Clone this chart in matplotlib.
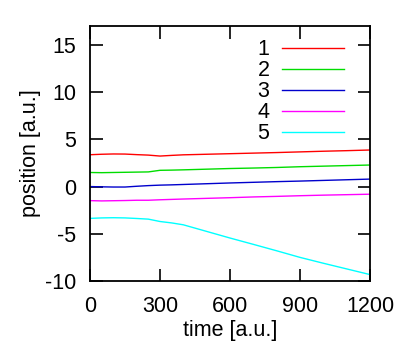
import matplotlib
matplotlib.use("Agg")
import matplotlib.pyplot as plt

plt.rcParams['font.family'] = ['Liberation Sans', 'DejaVu Sans']
plt.rcParams['axes.unicode_minus'] = False

time = [0, 50, 100, 150, 200, 250, 300, 350, 400, 500, 600, 700, 800, 900, 1000, 1100, 1200]
s1 = [3.37, 3.42, 3.45, 3.44, 3.38, 3.33, 3.23, 3.30, 3.36, 3.42, 3.48, 3.54, 3.60, 3.67, 3.74, 3.80, 3.87]
s2 = [1.49, 1.47, 1.49, 1.51, 1.53, 1.55, 1.72, 1.74, 1.77, 1.84, 1.91, 1.96, 2.02, 2.10, 2.16, 2.22, 2.28]
s3 = [0.00, -0.03, -0.05, -0.05, 0.03, 0.10, 0.15, 0.18, 0.22, 0.30, 0.38, 0.45, 0.52, 0.58, 0.65, 0.72, 0.79]
s4 = [-1.49, -1.52, -1.50, -1.48, -1.45, -1.45, -1.40, -1.36, -1.32, -1.25, -1.18, -1.10, -1.04, -0.97, -0.91, -0.86, -0.81]
s5 = [-3.37, -3.32, -3.30, -3.32, -3.38, -3.45, -3.70, -3.85, -4.05, -4.75, -5.45, -6.12, -6.80, -7.50, -8.12, -8.72, -9.32]
labels = ['1', '2', '3', '4', '5']
colors = ['#ff0000', '#00dd00', '#0000cc', '#ff00ff', '#00ffff']

fig = plt.figure(figsize=(4.07, 3.41), dpi=100)
ax = fig.add_axes([90/407, 1-281/341, 280/407, 255/341])
for s, lab, c in zip([s1, s2, s3, s4, s5], labels, colors):
    ax.plot(time, s, color=c, lw=1.0, label=lab)

fs = 15.5
ax.set_xlim(0, 1200)
ax.set_ylim(-10, 17)
ax.set_xticks([0, 300, 600, 900, 1200])
ax.set_yticks([-10, -5, 0, 5, 10, 15])
ax.tick_params(direction='in', top=True, right=True, length=9, width=1.2, labelsize=fs)
ax.tick_params(axis='x', pad=11)
ax.tick_params(axis='y', pad=10)
for sp in ax.spines.values():
    sp.set_linewidth(1.3)
ax.set_xlabel('time [a.u.]', fontsize=fs, labelpad=2)
ax.set_ylabel('position [a.u.]', fontsize=fs, labelpad=3)

leg = ax.legend(loc='upper right', frameon=False, markerfirst=False, fontsize=fs,
                handlelength=2.9, handletextpad=0.56, labelspacing=0.0,
                bbox_to_anchor=(0.938, 0.982), borderaxespad=0.0)
fig.savefig('out.png', dpi=100)
